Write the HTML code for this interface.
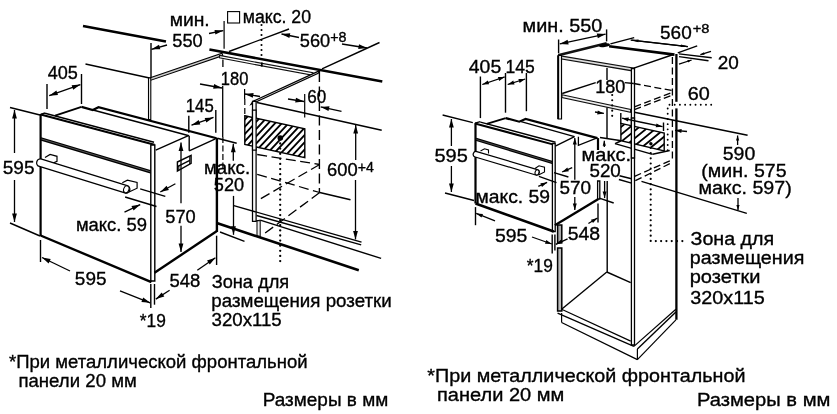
<!DOCTYPE html>
<html><head><meta charset="utf-8"><title>Размеры</title>
<style>
html,body{margin:0;padding:0;background:#fff}
svg{display:block;will-change:transform;opacity:0.999}
text{font-family:"Liberation Sans",sans-serif;fill:#000}
</style></head><body>
<svg width="837" height="414" viewBox="0 0 837 414">
<rect width="837" height="414" fill="#fff"/><g>
<text transform="translate(169.65,26) scale(1.006,1)" font-size="19.2" stroke="#000" stroke-width="0.35">мин.</text>
<text transform="translate(172.27,46.8) scale(0.950,1)" font-size="19.2" stroke="#000" stroke-width="0.35">550</text>
<text transform="translate(242.76,22.5) scale(0.922,1)" font-size="19.2" stroke="#000" stroke-width="0.35">макс. 20</text>
<text transform="translate(299.77,46.5) scale(0.950,1)" font-size="19.2" stroke="#000" stroke-width="0.35">560</text>
<text transform="translate(330.29,41.5) scale(1.020,1)" font-size="14" stroke="#000" stroke-width="0.35">+8</text>
<text transform="translate(47.64,79) scale(0.941,1)" font-size="19.2" stroke="#000" stroke-width="0.35">405</text>
<text transform="translate(220.76,84.5) scale(0.861,1)" font-size="19.2" stroke="#000" stroke-width="0.35">180</text>
<text transform="translate(307.15,103) scale(0.889,1)" font-size="19.2" stroke="#000" stroke-width="0.35">60</text>
<text transform="translate(185.74,112) scale(0.874,1)" font-size="19.2" stroke="#000" stroke-width="0.35">145</text>
<text transform="translate(2.74,174) scale(0.992,1)" font-size="19.2" stroke="#000" stroke-width="0.35">595</text>
<text transform="translate(203.99,174) scale(0.974,1)" font-size="19.2" stroke="#000" stroke-width="0.35">макс.</text>
<text transform="translate(213.77,191.3) scale(0.947,1)" font-size="19.2" stroke="#000" stroke-width="0.35">520</text>
<text transform="translate(327.08,175.5) scale(0.956,1)" font-size="19.2" stroke="#000" stroke-width="0.35">600</text>
<text transform="translate(357.79,171.5) scale(1.011,1)" font-size="14" stroke="#000" stroke-width="0.35">+4</text>
<text transform="translate(75.91,230.5) scale(0.961,1)" font-size="19.2" stroke="#000" stroke-width="0.35">макс. 59</text>
<text transform="translate(165.27,222.5) scale(0.950,1)" font-size="19.2" stroke="#000" stroke-width="0.35">570</text>
<text transform="translate(74.84,284.6) scale(0.989,1)" font-size="19.2" stroke="#000" stroke-width="0.35">595</text>
<text transform="translate(169.56,287) scale(0.963,1)" font-size="19.2" stroke="#000" stroke-width="0.35">548</text>
<text transform="translate(139.74,327.3) scale(0.904,1)" font-size="19.2" stroke="#000" stroke-width="0.35">*19</text>
<text transform="translate(211.66,287.8) scale(0.949,1)" font-size="19.2" stroke="#000" stroke-width="0.35">Зона для</text>
<text transform="translate(211.28,306.7) scale(0.977,1)" font-size="19.2" stroke="#000" stroke-width="0.35">размещения розетки</text>
<text transform="translate(211.55,326) scale(0.972,1)" font-size="19.2" stroke="#000" stroke-width="0.35">320x115</text>
<text transform="translate(8.92,368) scale(0.966,1)" font-size="19.2" stroke="#000" stroke-width="0.35">*При металлической фронтальной</text>
<text transform="translate(18.40,386.7) scale(0.970,1)" font-size="19.2" stroke="#000" stroke-width="0.35">панели 20 мм</text>
<text transform="translate(262.68,406.4) scale(0.989,1)" font-size="19.2" stroke="#000" stroke-width="0.35">Размеры в мм</text>
<rect x="227.6" y="11.6" width="12" height="11.4" fill="none" stroke="#000" stroke-width="1.1"/>
<line x1="83" y1="26" x2="166" y2="41.5" stroke="#000" stroke-width="2.4" stroke-linecap="butt"/>
<line x1="209.4" y1="49.5" x2="382.3" y2="81.5" stroke="#000" stroke-width="2.6" stroke-linecap="butt"/>
<line x1="85.5" y1="64" x2="149.5" y2="78" stroke="#000" stroke-width="1.4" stroke-linecap="butt"/>
<line x1="151" y1="43" x2="151" y2="78" stroke="#000" stroke-width="1.4" stroke-linecap="butt"/>
<line x1="167" y1="45" x2="151.5" y2="49.3" stroke="#000" stroke-width="1.3" stroke-linecap="butt"/>
<polygon points="151.5,49.3 159.0,44.7 160.3,49.3" fill="#000"/>
<line x1="224.1" y1="21" x2="224.1" y2="48.8" stroke="#000" stroke-width="1.2" stroke-linecap="butt"/>
<line x1="209" y1="33.5" x2="223.3" y2="30.6" stroke="#000" stroke-width="1.3" stroke-linecap="butt"/>
<polygon points="223.3,30.6 215.4,34.6 214.5,29.9" fill="#000"/>
<line x1="261.5" y1="25" x2="261.5" y2="57" stroke="#000" stroke-width="2.1" stroke-dasharray="0.01 5.0" stroke-linecap="round"/>
<line x1="229" y1="51.5" x2="289" y2="29" stroke="#000" stroke-width="1.4" stroke-linecap="butt"/>
<line x1="322" y1="68.9" x2="379.5" y2="42.5" stroke="#000" stroke-width="1.4" stroke-linecap="butt"/>
<line x1="299" y1="37.5" x2="281.5" y2="34" stroke="#000" stroke-width="1.3" stroke-linecap="butt"/>
<polygon points="281.5,34.0 290.3,33.3 289.4,38.0" fill="#000"/>
<line x1="342" y1="44" x2="367" y2="48" stroke="#000" stroke-width="1.3" stroke-linecap="butt"/>
<polygon points="367.0,48.0 358.2,49.0 359.0,44.3" fill="#000"/>
<polygon points="149.5,78 222,53.2 222.8,55.6 150.3,80.4" fill="#ccc" stroke="#000" stroke-width="1.1"/>
<polygon points="219.5,55.4 313,72.8 313,75.3 219.5,57.9" fill="#fff" stroke="#111" stroke-width="1.1"/>
<line x1="261.8" y1="62.5" x2="261.8" y2="66.6" stroke="#000" stroke-width="1.8" stroke-linecap="butt"/>
<polygon points="320.2,70.4 253,101.3 251,104.3 318.2,73.4" fill="#ddd" stroke="#000" stroke-width="1.2"/>
<polygon points="148.5,78 148.5,119.5 150.8,119.5 150.8,78" fill="#eee" stroke="#000" stroke-width="1.1"/>
<polygon points="252.5,101.3 252.5,221.3 256.1,221.3 256.1,101.3" fill="#fafafa" stroke="#000" stroke-width="1.25"/>
<polygon points="257,220.7 257,236.4 260.2,236.4 260.2,220.7" fill="#eee" stroke="#111" stroke-width="1.1"/>
<line x1="256" y1="220.9" x2="260.2" y2="220.1" stroke="#000" stroke-width="1" stroke-linecap="butt"/>
<line x1="47" y1="84" x2="47" y2="109" stroke="#000" stroke-width="1.4" stroke-linecap="butt"/>
<line x1="81.5" y1="74" x2="81.5" y2="104" stroke="#000" stroke-width="1.4" stroke-linecap="butt"/>
<line x1="49.2" y1="95.7" x2="80.4" y2="84.6" stroke="#000" stroke-width="1.3" stroke-linecap="butt"/>
<polygon points="80.4,84.6 73.2,89.7 71.6,85.2" fill="#000"/>
<polygon points="49.2,95.7 56.4,90.6 58.0,95.1" fill="#000"/>
<line x1="222.9" y1="59.5" x2="222.9" y2="67" stroke="#000" stroke-width="1.3" stroke-linecap="butt"/>
<line x1="222.7" y1="86" x2="222.7" y2="137" stroke="#000" stroke-width="1.3" stroke-linecap="butt"/>
<line x1="222.9" y1="137" x2="222.9" y2="168" stroke="#000" stroke-width="1.2" stroke-dasharray="6 2.5" stroke-linecap="butt"/>
<line x1="200" y1="84" x2="222" y2="88" stroke="#000" stroke-width="1.3" stroke-linecap="butt"/>
<polygon points="222.0,88.0 213.2,88.8 214.1,84.1" fill="#000"/>
<line x1="244.6" y1="89" x2="244.6" y2="99" stroke="#000" stroke-width="1.2" stroke-linecap="butt"/>
<line x1="244.8" y1="99" x2="244.8" y2="116.5" stroke="#000" stroke-width="1.2" stroke-dasharray="6 3" stroke-linecap="butt"/>
<line x1="260" y1="96.5" x2="244.8" y2="94" stroke="#000" stroke-width="1.3" stroke-linecap="butt"/>
<polygon points="244.8,94.0 253.6,93.0 252.8,97.7" fill="#000"/>
<line x1="304.7" y1="94" x2="304.7" y2="117.6" stroke="#000" stroke-width="1.2" stroke-linecap="butt"/>
<line x1="288" y1="99" x2="304" y2="101.5" stroke="#000" stroke-width="1.3" stroke-linecap="butt"/>
<polygon points="304.0,101.5 295.2,102.6 296.0,97.8" fill="#000"/>
<line x1="319.4" y1="72" x2="319.4" y2="192.5" stroke="#000" stroke-width="1.4" stroke-dasharray="10 4.5" stroke-linecap="butt"/>
<line x1="341.5" y1="111.3" x2="320.7" y2="106.9" stroke="#000" stroke-width="1.3" stroke-linecap="butt"/>
<polygon points="320.7,106.9 329.5,106.3 328.5,111.0" fill="#000"/>
<line x1="188.8" y1="115.7" x2="188.8" y2="132.7" stroke="#000" stroke-width="1.4" stroke-linecap="butt"/>
<line x1="215.8" y1="110" x2="215.8" y2="132.7" stroke="#000" stroke-width="1.4" stroke-linecap="butt"/>
<line x1="191.5" y1="125.2" x2="213.5" y2="117.4" stroke="#000" stroke-width="1.3" stroke-linecap="butt"/>
<polygon points="213.5,117.4 206.3,122.5 204.7,118.0" fill="#000"/>
<polygon points="191.5,125.2 198.7,120.1 200.3,124.6" fill="#000"/>
<line x1="10" y1="107.5" x2="40" y2="115" stroke="#000" stroke-width="1.4" stroke-linecap="butt"/>
<line x1="14.5" y1="153" x2="14.5" y2="110" stroke="#000" stroke-width="1.3" stroke-linecap="butt"/>
<polygon points="14.5,110.0 16.9,118.5 12.1,118.5" fill="#000"/>
<line x1="14.5" y1="180" x2="14.5" y2="222" stroke="#000" stroke-width="1.3" stroke-linecap="butt"/>
<polygon points="14.5,222.0 12.1,213.5 16.9,213.5" fill="#000"/>
<line x1="10" y1="223" x2="40" y2="236" stroke="#000" stroke-width="1.4" stroke-linecap="butt"/>
<line x1="40.6" y1="114" x2="40.6" y2="236" stroke="#000" stroke-width="2.2" stroke-linecap="butt"/>
<line x1="40.7" y1="114.5" x2="154.5" y2="144.7" stroke="#000" stroke-width="2" stroke-linecap="butt"/>
<line x1="40.7" y1="114.5" x2="45" y2="113" stroke="#000" stroke-width="1.4" stroke-linecap="butt"/>
<line x1="45" y1="113.2" x2="154" y2="142.2" stroke="#000" stroke-width="1.4" stroke-linecap="butt"/>
<line x1="55.1" y1="115.7" x2="81.5" y2="106.9" stroke="#000" stroke-width="1.8" stroke-linecap="butt"/>
<polyline points="81.5,106.9 92.8,110.1 98.5,107.2 216.6,138.2" fill="none" stroke="#000" stroke-width="2.2" stroke-linejoin="miter"/>
<line x1="93" y1="110" x2="189" y2="135.7" stroke="#000" stroke-width="1.4" stroke-linecap="butt"/>
<line x1="155.7" y1="150.1" x2="188.4" y2="135.7" stroke="#000" stroke-width="1.4" stroke-linecap="butt"/>
<line x1="189.2" y1="135.7" x2="189.2" y2="150.8" stroke="#000" stroke-width="1.4" stroke-linecap="butt"/>
<line x1="189.2" y1="150.8" x2="215.4" y2="138.8" stroke="#000" stroke-width="1.4" stroke-linecap="butt"/>
<line x1="40.7" y1="138.8" x2="152.4" y2="172.3" stroke="#000" stroke-width="3.3" stroke-linecap="butt"/>
<line x1="41.5" y1="139" x2="151.5" y2="172" stroke="#777" stroke-width="0.7" stroke-linecap="butt"/>
<polygon points="150.8,145 150.8,281 154.8,281 154.8,145" fill="#fff" stroke="#000" stroke-width="1.4"/>
<line x1="40.6" y1="235.5" x2="151.4" y2="282.1" stroke="#000" stroke-width="2.4" stroke-linecap="butt"/>
<line x1="154.5" y1="272.7" x2="216.6" y2="231.3" stroke="#000" stroke-width="2.4" stroke-linecap="butt"/>
<line x1="216.9" y1="138" x2="216.9" y2="232" stroke="#000" stroke-width="2.4" stroke-linecap="butt"/>
<polygon points="177.4,162 191.1,155.4 191.1,163.3 177.4,171.1" fill="none" stroke="#000" stroke-width="1.4" stroke-linejoin="miter"/>
<line x1="177.4" y1="166.6" x2="189.8" y2="160.4" stroke="#000" stroke-width="1.3" stroke-linecap="butt"/>
<line x1="189.8" y1="156.2" x2="189.8" y2="164" stroke="#000" stroke-width="1.2" stroke-linecap="butt"/>
<line x1="178.8" y1="165.8" x2="178.8" y2="170.2" stroke="#000" stroke-width="1.1" stroke-linecap="butt"/>
<polyline points="45,157.6 50.1,154.4 57,156.3 57,161.3 52,163.5" fill="#fff" stroke="#000" stroke-width="1.2" stroke-linejoin="miter"/>
<polyline points="122.3,182.7 127.4,180.2 137.1,182.5 137.1,188.2 129,192" fill="#fff" stroke="#000" stroke-width="1.2" stroke-linejoin="miter"/>
<line x1="40.5" y1="162.8" x2="126" y2="189.3" stroke="#000" stroke-width="9" stroke-linecap="round"/>
<line x1="40.5" y1="162.8" x2="126" y2="189.3" stroke="#fff" stroke-width="6.4" stroke-linecap="round"/>
<ellipse cx="126.3" cy="189.3" rx="2.6" ry="3.6" fill="#fff" stroke="#000" stroke-width="1.1" transform="rotate(20 126.3 189.3)"/>
<line x1="181" y1="203.3" x2="181" y2="142.6" stroke="#000" stroke-width="1.3" stroke-linecap="butt"/>
<polygon points="181.0,142.6 183.4,151.1 178.6,151.1" fill="#000"/>
<line x1="181" y1="225.7" x2="181" y2="252" stroke="#000" stroke-width="1.3" stroke-linecap="butt"/>
<polygon points="181.0,252.0 178.6,243.5 183.4,243.5" fill="#000"/>
<line x1="140.2" y1="188.9" x2="165.3" y2="196.4" stroke="#000" stroke-width="1.4" stroke-linecap="butt"/>
<line x1="125.1" y1="197" x2="156.5" y2="206.5" stroke="#000" stroke-width="1.4" stroke-linecap="butt"/>
<line x1="175.4" y1="183.8" x2="160.3" y2="192" stroke="#000" stroke-width="1.3" stroke-linecap="butt"/>
<polygon points="160.3,192.0 166.6,185.8 168.9,190.1" fill="#000"/>
<line x1="124.5" y1="212.1" x2="140.2" y2="204.6" stroke="#000" stroke-width="1.3" stroke-linecap="butt"/>
<polygon points="140.2,204.6 133.6,210.4 131.5,206.1" fill="#000"/>
<line x1="40.5" y1="240" x2="40.5" y2="262" stroke="#000" stroke-width="1.4" stroke-linecap="butt"/>
<line x1="70" y1="271" x2="42" y2="257.5" stroke="#000" stroke-width="1.3" stroke-linecap="butt"/>
<polygon points="42.0,257.5 50.7,259.0 48.6,263.4" fill="#000"/>
<line x1="120" y1="290.9" x2="150.2" y2="302.8" stroke="#000" stroke-width="1.3" stroke-linecap="butt"/>
<polygon points="150.2,302.8 141.4,301.9 143.2,297.5" fill="#000"/>
<line x1="150.8" y1="284" x2="150.8" y2="307.9" stroke="#000" stroke-width="1.4" stroke-linecap="butt"/>
<line x1="154.5" y1="284" x2="154.5" y2="304.7" stroke="#000" stroke-width="1.4" stroke-linecap="butt"/>
<line x1="169.6" y1="290.3" x2="155.8" y2="299.1" stroke="#000" stroke-width="1.3" stroke-linecap="butt"/>
<polygon points="155.8,299.1 161.7,292.5 164.3,296.6" fill="#000"/>
<line x1="197.3" y1="270.2" x2="215.4" y2="257.7" stroke="#000" stroke-width="1.3" stroke-linecap="butt"/>
<polygon points="215.4,257.7 209.8,264.5 207.0,260.6" fill="#000"/>
<line x1="216.6" y1="235.7" x2="216.6" y2="265" stroke="#000" stroke-width="1.4" stroke-linecap="butt"/>
<line x1="217.5" y1="223.2" x2="358.8" y2="270.2" stroke="#000" stroke-width="2.6" stroke-linecap="butt"/>
<line x1="233.8" y1="205.6" x2="361.5" y2="242.2" stroke="#000" stroke-width="1.4" stroke-linecap="butt"/>
<line x1="256.5" y1="215.5" x2="361.2" y2="244.9" stroke="#000" stroke-width="1.4" stroke-linecap="butt"/>
<line x1="260.2" y1="220.1" x2="381.1" y2="258.4" stroke="#000" stroke-width="1.4" stroke-linecap="butt"/>
<line x1="233.3" y1="160.7" x2="233.3" y2="143.8" stroke="#000" stroke-width="1.3" stroke-linecap="butt"/>
<polygon points="233.3,143.8 235.7,152.3 230.9,152.3" fill="#000"/>
<line x1="217.3" y1="138.2" x2="236.7" y2="143.2" stroke="#000" stroke-width="1.4" stroke-linecap="butt"/>
<line x1="233.5" y1="195.9" x2="233.5" y2="234.8" stroke="#000" stroke-width="1.3" stroke-linecap="butt"/>
<polygon points="233.5,234.8 231.1,226.3 235.9,226.3" fill="#000"/>
<line x1="220" y1="232" x2="244.5" y2="241.4" stroke="#000" stroke-width="1.4" stroke-linecap="butt"/>
<line x1="257" y1="102.5" x2="381.7" y2="130.2" stroke="#000" stroke-width="1.4" stroke-linecap="butt"/>
<line x1="355.7" y1="160" x2="355.7" y2="125.1" stroke="#000" stroke-width="1.3" stroke-linecap="butt"/>
<polygon points="355.7,125.1 358.1,133.6 353.3,133.6" fill="#000"/>
<line x1="355.5" y1="180" x2="355.5" y2="239.4" stroke="#000" stroke-width="1.3" stroke-linecap="butt"/>
<polygon points="355.5,239.4 353.1,230.9 357.9,230.9" fill="#000"/>
<clipPath id="c1"><polygon points="244.8,115.8 304.8,128.7 304.8,157.6 244.8,144.4"/></clipPath>
<polygon points="244.8,115.8 304.8,128.7 304.8,157.6 244.8,144.4" fill="#fff"/>
<path d="M71.8,167.5L153.7,79.7M78.6,167.5L160.4,79.7M85.3,167.5L167.2,79.7M92.1,167.5L173.9,79.7M98.8,167.5L180.7,79.7M105.6,167.5L187.4,79.7M112.3,167.5L194.2,79.7M119.1,167.5L200.9,79.7M125.8,167.5L207.7,79.7M132.6,167.5L214.4,79.7M139.3,167.5L221.2,79.7M146.1,167.5L227.9,79.7M152.8,167.5L234.7,79.7M159.6,167.5L241.4,79.7M166.3,167.5L248.2,79.7M173.1,167.5L254.9,79.7M179.8,167.5L261.7,79.7M186.6,167.5L268.4,79.7M193.3,167.5L275.2,79.7M200.1,167.5L281.9,79.7M206.8,167.5L288.7,79.7M213.6,167.5L295.4,79.7M220.3,167.5L302.2,79.7M227.1,167.5L308.9,79.7M233.8,167.5L315.7,79.7M240.6,167.5L322.4,79.7M247.3,167.5L329.2,79.7M254.1,167.5L335.9,79.7M260.8,167.5L342.7,79.7M267.6,167.5L349.4,79.7M274.3,167.5L356.2,79.7M281.1,167.5L362.9,79.7M287.8,167.5L369.7,79.7M294.6,167.5L376.4,79.7M301.3,167.5L383.2,79.7M308.1,167.5L389.9,79.7M314.8,167.5L396.7,79.7M321.6,167.5L403.4,79.7M328.3,167.5L410.2,79.7M335.1,167.5L416.9,79.7M341.8,167.5L423.7,79.7M348.6,167.5L430.4,79.7M355.3,167.5L437.2,79.7M362.1,167.5L443.9,79.7M368.8,167.5L450.7,79.7M375.6,167.5L457.4,79.7M382.3,167.5L464.2,79.7M389.1,167.5L470.9,79.7M395.8,167.5L477.7,79.7M402.6,167.5L484.4,79.7M409.3,167.5L491.2,79.7" stroke="#000" stroke-width="1.85" fill="none" clip-path="url(#c1)"/>
<polygon points="244.8,115.8 304.8,128.7 304.8,157.6 244.8,144.4" fill="none" stroke="#000" stroke-width="1.4"/>
<polygon points="252.5,110 252.5,150 256.1,150 256.1,110" fill="#fafafa" stroke="#000" stroke-width="1.25"/>
<circle cx="280.3" cy="138" r="2.8" fill="#000"/>
<line x1="280.2" y1="143.5" x2="280.2" y2="263" stroke="#000" stroke-width="2.3" stroke-dasharray="0.01 5.1" stroke-linecap="round"/>
<line x1="257.2" y1="154.5" x2="319.7" y2="164.5" stroke="#000" stroke-width="1.3" stroke-dasharray="10 4.5" stroke-linecap="butt"/>
<line x1="319.7" y1="164.5" x2="257.2" y2="200.7" stroke="#000" stroke-width="1.3" stroke-dasharray="10 4.5" stroke-linecap="butt"/>
<line x1="257.2" y1="174.4" x2="319.7" y2="192.5" stroke="#000" stroke-width="1.3" stroke-dasharray="10 4.5" stroke-linecap="butt"/>
<line x1="319.7" y1="192.5" x2="261.5" y2="235.8" stroke="#000" stroke-width="1.3" stroke-dasharray="10 4.5" stroke-linecap="butt"/>
<line x1="319.7" y1="192.5" x2="350.5" y2="199.8" stroke="#000" stroke-width="1.4" stroke-linecap="butt"/>
<text transform="translate(522.61,32) scale(1.032,1)" font-size="19.2" stroke="#000" stroke-width="0.35">мин. 550</text>
<text transform="translate(468.81,73.4) scale(1.012,1)" font-size="19.2" stroke="#000" stroke-width="0.35">405</text>
<text transform="translate(505.48,73.4) scale(0.914,1)" font-size="19.2" stroke="#000" stroke-width="0.35">145</text>
<text transform="translate(595.24,92.5) scale(0.941,1)" font-size="19.2" stroke="#000" stroke-width="0.35">180</text>
<text transform="translate(660.04,38.7) scale(0.989,1)" font-size="19.2" stroke="#000" stroke-width="0.35">560</text>
<text transform="translate(692.77,33.2) scale(1.173,1)" font-size="12.5" stroke="#000" stroke-width="0.35">+8</text>
<text transform="translate(717.65,69) scale(0.986,1)" font-size="19.2" stroke="#000" stroke-width="0.35">20</text>
<text transform="translate(687.81,99.7) scale(1.032,1)" font-size="19.2" stroke="#000" stroke-width="0.35">60</text>
<text transform="translate(434.50,162) scale(1.042,1)" font-size="19.2" stroke="#000" stroke-width="0.35">595</text>
<text transform="translate(581.60,160.8) scale(1.042,1)" font-size="19.2" stroke="#000" stroke-width="0.35">макс.</text>
<text transform="translate(589.45,177.3) scale(0.979,1)" font-size="19.2" stroke="#000" stroke-width="0.35">520</text>
<text transform="translate(559.54,194.2) scale(0.986,1)" font-size="19.2" stroke="#000" stroke-width="0.35">570</text>
<text transform="translate(475.45,202.6) scale(1.007,1)" font-size="19.2" stroke="#000" stroke-width="0.35">макс. 59</text>
<text transform="translate(722.72,159.7) scale(1.015,1)" font-size="19.2" stroke="#000" stroke-width="0.35">590</text>
<text transform="translate(701.33,177.3) scale(1.020,1)" font-size="19.2" stroke="#000" stroke-width="0.35">(мин. 575</text>
<text transform="translate(698.42,194.1) scale(1.024,1)" font-size="19.2" stroke="#000" stroke-width="0.35">макс. 597)</text>
<text transform="translate(495.03,241.5) scale(1.009,1)" font-size="19.2" stroke="#000" stroke-width="0.35">595</text>
<text transform="translate(567.72,239.8) scale(1.012,1)" font-size="19.2" stroke="#000" stroke-width="0.35">548</text>
<text transform="translate(526.74,271.5) scale(0.904,1)" font-size="19.2" stroke="#000" stroke-width="0.35">*19</text>
<text transform="translate(690.51,244.8) scale(1.025,1)" font-size="19.2" stroke="#000" stroke-width="0.35">Зона для</text>
<text transform="translate(689.72,264.2) scale(1.025,1)" font-size="19.2" stroke="#000" stroke-width="0.35">размещения</text>
<text transform="translate(689.70,283.4) scale(1.045,1)" font-size="19.2" stroke="#000" stroke-width="0.35">розетки</text>
<text transform="translate(690.21,303.8) scale(1.033,1)" font-size="19.2" stroke="#000" stroke-width="0.35">320x115</text>
<text transform="translate(427.30,382) scale(1.028,1)" font-size="19.2" stroke="#000" stroke-width="0.35">*При металлической фронтальной</text>
<text transform="translate(437.00,400.7) scale(1.043,1)" font-size="19.2" stroke="#000" stroke-width="0.35">панели 20 мм</text>
<text transform="translate(696.89,406) scale(1.051,1)" font-size="19.2" stroke="#000" stroke-width="0.35">Размеры в мм</text>
<line x1="606.6" y1="29.4" x2="606.6" y2="41.4" stroke="#000" stroke-width="1.4" stroke-linecap="butt"/>
<line x1="558.6" y1="39.5" x2="558.6" y2="53.3" stroke="#000" stroke-width="1.4" stroke-linecap="butt"/>
<line x1="559.8" y1="43.9" x2="605.6" y2="34.1" stroke="#000" stroke-width="1.3" stroke-linecap="butt"/>
<polygon points="605.6,34.1 597.8,38.2 596.8,33.5" fill="#000"/>
<polygon points="559.8,43.9 567.6,39.8 568.6,44.5" fill="#000"/>
<line x1="558.2" y1="55.2" x2="606.6" y2="43.2" stroke="#111" stroke-width="2.6" stroke-linecap="butt"/>
<ellipse cx="604.5" cy="45.3" rx="5.5" ry="1.8" fill="#000" transform="rotate(-8 604.5 45.3)"/>
<line x1="610.4" y1="43.9" x2="634.2" y2="37.6" stroke="#000" stroke-width="1.4" stroke-linecap="butt"/>
<line x1="609.1" y1="46.3" x2="674.5" y2="54.6" stroke="#000" stroke-width="2.6" stroke-linecap="butt"/>
<polygon points="559,55.6 634.4,68.2 634.4,71.2 559,58.6" fill="#ddd" stroke="#111" stroke-width="1.2"/>
<line x1="633.8" y1="68.2" x2="673.3" y2="54.5" stroke="#000" stroke-width="1.4" stroke-linecap="butt"/>
<polygon points="558.2,55.5 558.2,119 561.5,119 561.5,55.5" fill="#fff" stroke="#000" stroke-width="1.2"/>
<line x1="558.2" y1="55.5" x2="558.2" y2="119" stroke="#000" stroke-width="2" stroke-linecap="butt"/>
<polygon points="557.6,225 557.6,242.5 561.8000000000001,242.5 561.8000000000001,225" fill="#aaa" stroke="#000" stroke-width="1.5"/>
<polygon points="557.6,248 557.6,311 561.8000000000001,311 561.8000000000001,248" fill="#bbb" stroke="#000" stroke-width="1.5"/>
<polygon points="631.4,68.5 631.4,345 634.5,345 634.5,68.5" fill="#fff" stroke="#000" stroke-width="1.3"/>
<line x1="676.4" y1="54" x2="676.4" y2="319.8" stroke="#000" stroke-width="2.3" stroke-linecap="butt"/>
<line x1="676.6" y1="101.8" x2="676.6" y2="108.4" stroke="#fff" stroke-width="3.4" stroke-linecap="butt"/>
<line x1="672.4" y1="57" x2="672.4" y2="160" stroke="#000" stroke-width="1.3" stroke-dasharray="7 3.5" stroke-linecap="butt"/>
<line x1="480.4" y1="76.5" x2="480.4" y2="118.1" stroke="#000" stroke-width="1.4" stroke-linecap="butt"/>
<line x1="505.5" y1="73" x2="505.5" y2="112.7" stroke="#000" stroke-width="1.4" stroke-linecap="butt"/>
<line x1="526.4" y1="73" x2="526.4" y2="111.2" stroke="#000" stroke-width="1.4" stroke-linecap="butt"/>
<line x1="482.3" y1="84.5" x2="504.7" y2="76.9" stroke="#000" stroke-width="1.3" stroke-linecap="butt"/>
<polygon points="504.7,76.9 499.2,80.9 497.9,77.1" fill="#000"/>
<polygon points="482.3,84.5 487.8,80.5 489.1,84.3" fill="#000"/>
<line x1="507.7" y1="84.5" x2="525.2" y2="79" stroke="#000" stroke-width="1.3" stroke-linecap="butt"/>
<polygon points="525.2,79.0 519.6,82.9 518.4,79.0" fill="#000"/>
<polygon points="507.7,84.5 513.3,80.6 514.5,84.5" fill="#000"/>
<line x1="562.2" y1="93.5" x2="595.7" y2="82.6" stroke="#000" stroke-width="1.4" stroke-linecap="butt"/>
<line x1="624.7" y1="82.6" x2="633.7" y2="83.5" stroke="#000" stroke-width="1.4" stroke-linecap="butt"/>
<line x1="633.7" y1="83.5" x2="672" y2="90.5" stroke="#000" stroke-width="1.3" stroke-dasharray="7 3.5" stroke-linecap="butt"/>
<polygon points="562,94.8 630.6,109.5 630.6,112.3 562,97.6" fill="#eee" stroke="#111" stroke-width="1.1"/>
<line x1="607" y1="68.1" x2="607" y2="80" stroke="#000" stroke-width="1.4" stroke-linecap="butt"/>
<line x1="607" y1="107.4" x2="607" y2="138.1" stroke="#000" stroke-width="1.4" stroke-linecap="butt"/>
<line x1="612.2" y1="95" x2="612.2" y2="117" stroke="#000" stroke-width="2.1" stroke-dasharray="0.01 5.2" stroke-linecap="round"/>
<line x1="595" y1="112" x2="603.9" y2="113.4" stroke="#000" stroke-width="1.3" stroke-linecap="butt"/>
<polygon points="603.9,113.4 597.2,114.4 597.8,110.4" fill="#000"/>
<line x1="630.7" y1="40.1" x2="687.8" y2="46.6" stroke="#000" stroke-width="1.4" stroke-linecap="butt"/>
<line x1="660" y1="43.4" x2="631.5" y2="40.1" stroke="#000" stroke-width="1.3" stroke-linecap="butt"/>
<polygon points="631.5,40.1 638.6,39.6 638.3,42.2" fill="#000"/>
<line x1="660" y1="43.4" x2="687.8" y2="46.6" stroke="#000" stroke-width="1.3" stroke-linecap="butt"/>
<polygon points="687.8,46.6 680.7,47.1 681.0,44.5" fill="#000"/>
<line x1="677.8" y1="52.9" x2="697.2" y2="45.8" stroke="#000" stroke-width="1.4" stroke-linecap="butt"/>
<line x1="679" y1="53.9" x2="711.7" y2="57.7" stroke="#000" stroke-width="1.4" stroke-linecap="butt"/>
<line x1="679" y1="56.6" x2="708.5" y2="60.8" stroke="#000" stroke-width="1.4" stroke-linecap="butt"/>
<line x1="711" y1="51.4" x2="700.4" y2="54.7" stroke="#000" stroke-width="1.3" stroke-linecap="butt"/>
<polygon points="700.4,54.7 703.8,52.2 704.6,54.8" fill="#000"/>
<line x1="679" y1="64.2" x2="691.6" y2="60" stroke="#000" stroke-width="1.3" stroke-linecap="butt"/>
<polygon points="691.6,60.0 688.2,62.6 687.4,59.9" fill="#000"/>
<line x1="669.5" y1="104.7" x2="712" y2="104.7" stroke="#000" stroke-width="1.9" stroke-dasharray="0.01 5.2" stroke-linecap="round"/>
<line x1="667.7" y1="108.5" x2="667.7" y2="154.7" stroke="#000" stroke-width="1.9" stroke-dasharray="0.01 5.2" stroke-linecap="round"/>
<line x1="634.4" y1="106.8" x2="672" y2="92.4" stroke="#000" stroke-width="1.3" stroke-dasharray="7 3.5" stroke-linecap="butt"/>
<line x1="634.4" y1="109.6" x2="672" y2="95.2" stroke="#000" stroke-width="1.3" stroke-dasharray="7 3.5" stroke-linecap="butt"/>
<line x1="634.6" y1="176.3" x2="672" y2="159.9" stroke="#000" stroke-width="1.3" stroke-dasharray="7 3.5" stroke-linecap="butt"/>
<line x1="635.3" y1="180.7" x2="672" y2="162.6" stroke="#000" stroke-width="1.3" stroke-dasharray="7 3.5" stroke-linecap="butt"/>
<line x1="619.5" y1="175.7" x2="631.5" y2="178.8" stroke="#000" stroke-width="1.4" stroke-linecap="butt"/>
<line x1="618.9" y1="179.5" x2="631.6" y2="183.2" stroke="#000" stroke-width="1.4" stroke-linecap="butt"/>
<line x1="475.5" y1="123" x2="475.5" y2="203.5" stroke="#000" stroke-width="2.2" stroke-linecap="butt"/>
<line x1="475" y1="123.5" x2="554.6" y2="144.9" stroke="#000" stroke-width="2" stroke-linecap="butt"/>
<line x1="475" y1="123.2" x2="480.4" y2="121.7" stroke="#000" stroke-width="1.4" stroke-linecap="butt"/>
<line x1="480.4" y1="122.1" x2="555.5" y2="142.3" stroke="#000" stroke-width="1.4" stroke-linecap="butt"/>
<line x1="486.7" y1="123.9" x2="505.7" y2="118.1" stroke="#000" stroke-width="1.8" stroke-linecap="butt"/>
<polyline points="505.7,118.1 519.3,121.7 525.6,119 597.5,138.1" fill="none" stroke="#000" stroke-width="2.2" stroke-linejoin="miter"/>
<line x1="521.1" y1="121.7" x2="574.5" y2="136.7" stroke="#000" stroke-width="1.4" stroke-linecap="butt"/>
<line x1="555.3" y1="146.2" x2="574.5" y2="136.7" stroke="#000" stroke-width="1.3" stroke-linecap="butt"/>
<polyline points="578.4,136.7 578.4,145.3 596.5,138.1" fill="none" stroke="#000" stroke-width="1.3" stroke-linejoin="miter"/>
<line x1="475.9" y1="139.3" x2="553.3" y2="162.8" stroke="#000" stroke-width="3.1" stroke-linecap="butt"/>
<line x1="476.5" y1="139.5" x2="552.5" y2="162.5" stroke="#777" stroke-width="0.6" stroke-linecap="butt"/>
<polygon points="552.4,143.5 552.4,231.5 555.1999999999999,231.5 555.1999999999999,143.5" fill="#fff" stroke="#000" stroke-width="1.3"/>
<line x1="475.5" y1="203.5" x2="553.7" y2="231.5" stroke="#000" stroke-width="2.4" stroke-linecap="butt"/>
<line x1="554.9" y1="225.3" x2="598.4" y2="199" stroke="#000" stroke-width="2.4" stroke-linecap="butt"/>
<line x1="598" y1="138.1" x2="598" y2="150" stroke="#000" stroke-width="2.2" stroke-linecap="butt"/>
<polygon points="597.6,181 597.6,199 599.8000000000001,199 599.8000000000001,181" fill="#fff" stroke="#000" stroke-width="1.3"/>
<polyline points="480.5,151 484.5,148.8 488.5,150 488.5,153.5" fill="#fff" stroke="#000" stroke-width="1.1" stroke-linejoin="miter"/>
<polyline points="535,168.5 539,165.8 544.5,167.2 544.5,172 538.5,175" fill="#fff" stroke="#000" stroke-width="1.1" stroke-linejoin="miter"/>
<line x1="476" y1="154.3" x2="536.5" y2="172.3" stroke="#000" stroke-width="6.8" stroke-linecap="round"/>
<line x1="476" y1="154.3" x2="536.5" y2="172.3" stroke="#fff" stroke-width="4.4" stroke-linecap="round"/>
<ellipse cx="537" cy="172.4" rx="1.9" ry="2.6" fill="#fff" stroke="#000" stroke-width="1" transform="rotate(20 537 172.4)"/>
<line x1="442.6" y1="115" x2="472.8" y2="122.6" stroke="#000" stroke-width="1.4" stroke-linecap="butt"/>
<line x1="451.4" y1="146" x2="451.4" y2="119" stroke="#000" stroke-width="1.3" stroke-linecap="butt"/>
<polygon points="451.4,119.0 453.8,127.5 449.0,127.5" fill="#000"/>
<line x1="451.4" y1="166" x2="451.4" y2="192" stroke="#000" stroke-width="1.3" stroke-linecap="butt"/>
<polygon points="451.4,192.0 449.0,183.5 453.8,183.5" fill="#000"/>
<line x1="445" y1="193" x2="474" y2="200.5" stroke="#000" stroke-width="1.4" stroke-linecap="butt"/>
<line x1="554" y1="172.6" x2="568.4" y2="177" stroke="#000" stroke-width="1.4" stroke-linecap="butt"/>
<line x1="538.9" y1="176.4" x2="556.5" y2="182.7" stroke="#000" stroke-width="1.4" stroke-linecap="butt"/>
<line x1="572.2" y1="167.6" x2="562.1" y2="172" stroke="#000" stroke-width="1.3" stroke-linecap="butt"/>
<polygon points="562.1,172.0 567.3,167.6 568.9,171.2" fill="#000"/>
<line x1="538.3" y1="186.4" x2="547.1" y2="182.4" stroke="#000" stroke-width="1.3" stroke-linecap="butt"/>
<polygon points="547.1,182.4 542.0,186.9 540.4,183.3" fill="#000"/>
<line x1="574.8" y1="179.7" x2="574.8" y2="138" stroke="#000" stroke-width="1.3" stroke-linecap="butt"/>
<polygon points="574.8,138.0 576.8,144.5 572.8,144.5" fill="#000"/>
<line x1="574.8" y1="197" x2="574.8" y2="209.9" stroke="#000" stroke-width="1.3" stroke-linecap="butt"/>
<polygon points="574.8,209.9 572.8,203.4 576.8,203.4" fill="#000"/>
<line x1="604.3" y1="147" x2="604.3" y2="140.8" stroke="#000" stroke-width="1.3" stroke-linecap="butt"/>
<polygon points="604.3,140.8 605.9,145.8 602.7,145.8" fill="#000"/>
<line x1="600" y1="137.5" x2="621.5" y2="140.8" stroke="#000" stroke-width="1.4" stroke-linecap="butt"/>
<line x1="604.6" y1="181" x2="604.6" y2="198.1" stroke="#000" stroke-width="1.3" stroke-linecap="butt"/>
<polygon points="604.6,198.1 602.6,191.6 606.6,191.6" fill="#000"/>
<line x1="599.3" y1="198.1" x2="613.7" y2="203" stroke="#000" stroke-width="1.4" stroke-linecap="butt"/>
<line x1="615" y1="143.7" x2="652.6" y2="154.3" stroke="#000" stroke-width="1.4" stroke-linecap="butt"/>
<line x1="652.6" y1="154.3" x2="669.7" y2="150.5" stroke="#000" stroke-width="1.4" stroke-linecap="butt"/>
<line x1="615" y1="143.7" x2="620.8" y2="141" stroke="#000" stroke-width="1.4" stroke-linecap="butt"/>
<clipPath id="c2"><polygon points="620.9,123.4 664.2,133 664.2,150.9 620.9,140.8"/></clipPath>
<polygon points="620.9,123.4 664.2,133 664.2,150.9 620.9,140.8" fill="#fff"/>
<path d="M376.9,168.8L470.2,93.2M386.1,168.8L479.3,93.2M395.3,168.8L488.5,93.2M404.4,168.8L497.7,93.2M413.6,168.8L506.9,93.2M422.8,168.8L516.0,93.2M431.9,168.8L525.2,93.2M441.1,168.8L534.4,93.2M450.3,168.8L543.5,93.2M459.5,168.8L552.7,93.2M468.6,168.8L561.9,93.2M477.8,168.8L571.0,93.2M487.0,168.8L580.2,93.2M496.1,168.8L589.4,93.2M505.3,168.8L598.6,93.2M514.5,168.8L607.7,93.2M523.6,168.8L616.9,93.2M532.8,168.8L626.1,93.2M542.0,168.8L635.2,93.2M551.2,168.8L644.4,93.2M560.3,168.8L653.6,93.2M569.5,168.8L662.7,93.2M578.7,168.8L671.9,93.2M587.8,168.8L681.1,93.2M597.0,168.8L690.3,93.2M606.2,168.8L699.4,93.2M615.3,168.8L708.6,93.2M624.5,168.8L717.8,93.2M633.7,168.8L726.9,93.2M642.9,168.8L736.1,93.2M652.0,168.8L745.3,93.2M661.2,168.8L754.4,93.2M670.4,168.8L763.6,93.2M679.5,168.8L772.8,93.2M688.7,168.8L782.0,93.2M697.9,168.8L791.1,93.2M707.0,168.8L800.3,93.2M716.2,168.8L809.5,93.2M725.4,168.8L818.6,93.2M734.6,168.8L827.8,93.2M743.7,168.8L837.0,93.2M752.9,168.8L846.1,93.2M762.1,168.8L855.3,93.2M771.2,168.8L864.5,93.2M780.4,168.8L873.7,93.2M789.6,168.8L882.8,93.2M798.7,168.8L892.0,93.2M807.9,168.8L901.2,93.2M817.1,168.8L910.3,93.2M826.3,168.8L919.5,93.2M835.4,168.8L928.7,93.2" stroke="#000" stroke-width="1.8" fill="none" clip-path="url(#c2)"/>
<polygon points="620.9,123.4 664.2,133 664.2,150.9 620.9,140.8" fill="none" stroke="#000" stroke-width="1.4"/>
<polygon points="631.4,118 631.4,158 634.5,158 634.5,118" fill="#fff" stroke="#000" stroke-width="1.3"/>
<line x1="620.8" y1="113.1" x2="620.8" y2="124" stroke="#000" stroke-width="1.4" stroke-linecap="butt"/>
<line x1="663.5" y1="122.5" x2="663.5" y2="131" stroke="#000" stroke-width="1.4" stroke-linecap="butt"/>
<line x1="640" y1="122" x2="622.1" y2="118.2" stroke="#000" stroke-width="1.3" stroke-linecap="butt"/>
<polygon points="622.1,118.2 628.9,117.6 628.0,121.5" fill="#000"/>
<line x1="640" y1="122" x2="662.5" y2="126.7" stroke="#000" stroke-width="1.3" stroke-linecap="butt"/>
<polygon points="662.5,126.7 655.7,127.3 656.5,123.4" fill="#000"/>
<line x1="687" y1="131.5" x2="675" y2="130.3" stroke="#000" stroke-width="1.3" stroke-linecap="butt"/>
<polygon points="675.0,130.3 681.7,129.0 681.3,132.9" fill="#000"/>
<circle cx="650.9" cy="143.7" r="1.7" fill="#000"/>
<line x1="634.4" y1="112.2" x2="747.6" y2="135.2" stroke="#000" stroke-width="1.4" stroke-linecap="butt"/>
<line x1="737.6" y1="145" x2="737.6" y2="135.5" stroke="#000" stroke-width="1.3" stroke-linecap="butt"/>
<polygon points="737.6,135.5 739.2,140.5 736.0,140.5" fill="#000"/>
<line x1="738" y1="198" x2="738" y2="210" stroke="#000" stroke-width="1.3" stroke-linecap="butt"/>
<polygon points="738.0,210.0 736.4,205.0 739.6,205.0" fill="#000"/>
<line x1="641.5" y1="181.4" x2="746.8" y2="213.4" stroke="#000" stroke-width="1.4" stroke-linecap="butt"/>
<line x1="650.7" y1="148" x2="650.7" y2="241.1" stroke="#000" stroke-width="2.2" stroke-dasharray="0.01 5.15" stroke-linecap="round"/>
<line x1="655.8" y1="241.1" x2="684" y2="241.1" stroke="#000" stroke-width="2.2" stroke-dasharray="0.01 5.3" stroke-linecap="round"/>
<line x1="475.5" y1="207.1" x2="475.5" y2="225.2" stroke="#000" stroke-width="1.4" stroke-linecap="butt"/>
<line x1="495" y1="220.8" x2="476.2" y2="213.4" stroke="#000" stroke-width="1.3" stroke-linecap="butt"/>
<polygon points="476.2,213.4 483.0,213.9 481.5,217.6" fill="#000"/>
<line x1="532" y1="237" x2="551.8" y2="244" stroke="#000" stroke-width="1.3" stroke-linecap="butt"/>
<polygon points="551.8,244.0 545.0,243.7 546.3,239.9" fill="#000"/>
<line x1="552.2" y1="234.4" x2="552.2" y2="253.4" stroke="#000" stroke-width="1.4" stroke-linecap="butt"/>
<line x1="554.9" y1="234.4" x2="554.9" y2="250.6" stroke="#000" stroke-width="1.4" stroke-linecap="butt"/>
<line x1="567.6" y1="238.9" x2="555.8" y2="244.3" stroke="#000" stroke-width="1.3" stroke-linecap="butt"/>
<polygon points="555.8,244.3 560.9,239.8 562.5,243.4" fill="#000"/>
<line x1="588.4" y1="223.5" x2="597.5" y2="218" stroke="#000" stroke-width="1.3" stroke-linecap="butt"/>
<polygon points="597.5,218.0 593.0,223.1 590.9,219.7" fill="#000"/>
<line x1="598" y1="203.6" x2="598" y2="222.6" stroke="#000" stroke-width="1.4" stroke-linecap="butt"/>
<line x1="607.2" y1="181" x2="607.2" y2="272" stroke="#000" stroke-width="1.4" stroke-linecap="butt"/>
<line x1="606.8" y1="272" x2="561.6" y2="309.2" stroke="#000" stroke-width="1.4" stroke-linecap="butt"/>
<line x1="606.8" y1="272" x2="630.7" y2="282.6" stroke="#000" stroke-width="1.4" stroke-linecap="butt"/>
<line x1="561.6" y1="309.2" x2="630.7" y2="341.1" stroke="#000" stroke-width="1.2" stroke-linecap="butt"/>
<line x1="557.6" y1="313.2" x2="633.9" y2="346.4" stroke="#000" stroke-width="1.3" stroke-linecap="butt"/>
<line x1="561.6" y1="313" x2="561.6" y2="322.5" stroke="#000" stroke-width="1.2" stroke-linecap="butt"/>
<line x1="561.6" y1="322.5" x2="637.4" y2="359.7" stroke="#000" stroke-width="1.3" stroke-linecap="butt"/>
<line x1="637.4" y1="349" x2="637.4" y2="359.7" stroke="#000" stroke-width="1.2" stroke-linecap="butt"/>
<line x1="633.9" y1="346.4" x2="675.9" y2="309.2" stroke="#000" stroke-width="1.2" stroke-linecap="butt"/>
<line x1="637.4" y1="349" x2="675.9" y2="312" stroke="#000" stroke-width="1.4" stroke-linecap="butt"/>
<line x1="637.4" y1="359.7" x2="675.9" y2="319.8" stroke="#000" stroke-width="1.2" stroke-linecap="butt"/>
</g></svg>
</body></html>
